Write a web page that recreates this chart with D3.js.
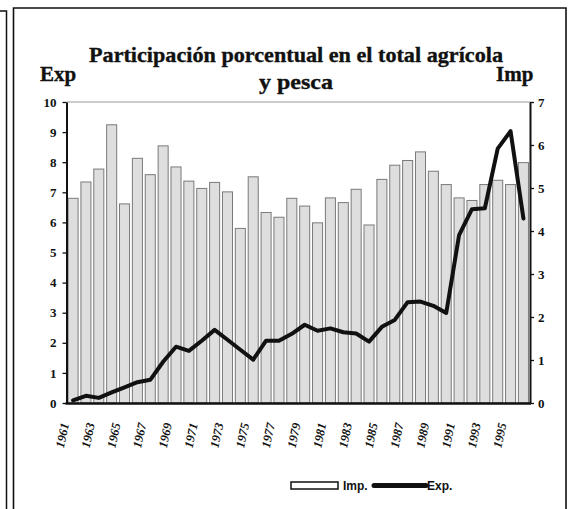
<!DOCTYPE html>
<html><head><meta charset="utf-8">
<script src="https://cdn.jsdelivr.net/npm/d3@7"></script>
<style>
html,body{margin:0;padding:0;background:#fff;}
svg{display:block;}
</style></head>
<body>
<svg id="c" width="569" height="509"></svg>
<script>
// ---- data ----
const years = ["1961","1962","1963","1964","1965","1966","1967","1968","1969","1970",
  "1971","1972","1973","1974","1975","1976","1977","1978","1979","1980",
  "1981","1982","1983","1984","1985","1986","1987","1988","1989","1990",
  "1991","1992","1993","1994","1995","1996"];
// Imp. (bars, right axis)
const impValues = [4.76,5.14,5.44,6.47,4.63,5.69,5.31,5.98,5.49,5.16,
  4.99,5.13,4.91,4.06,5.26,4.43,4.32,4.76,4.58,4.19,
  4.77,4.66,4.97,4.14,5.20,5.53,5.64,5.84,5.39,5.08,
  4.77,4.71,5.08,5.18,5.08,5.59];
// Exp. (line, left axis)
const expValues = [0.09,0.24,0.17,0.35,0.52,0.69,0.77,1.37,1.87,1.73,
  2.07,2.43,2.10,1.77,1.44,2.07,2.07,2.30,2.60,2.40,
  2.48,2.35,2.31,2.04,2.53,2.76,3.35,3.37,3.23,2.99,
  5.58,6.44,6.47,8.45,9.03,6.13];
const xTickLabels = ["1961","1963","1965","1967","1969","1971","1973","1975","1977",
  "1979","1981","1983","1985","1987","1989","1991","1993","1995"];
const leftTicks = [0,1,2,3,4,5,6,7,8,9,10];
const rightTicks = [0,1,2,3,4,5,6,7];
const titleLine1 = "Participación porcentual en el total agrícola";
const titleLine2 = "y pesca";
const leftAxisTitle = "Exp";
const rightAxisTitle = "Imp";
const legendImp = "Imp.";
const legendExp = "Exp.";

// ---- drawing ----
const svg = d3.select("#c");
const serif = "'Liberation Serif','Times New Roman',serif";
const sans = "'Liberation Sans',Arial,sans-serif";

// frames
svg.append("path").attr("d","M0,11 H6.5 V509").attr("fill","none").attr("stroke","#111").attr("stroke-width",1.5);
svg.append("path").attr("d","M13.5,509 V8 H566 V509").attr("fill","none").attr("stroke","#111").attr("stroke-width",1.6);

const x = d3.scaleBand().domain(years).range([66.5,530]).paddingInner(0.22).paddingOuter(0.12);
const yL = d3.scaleLinear().domain([0,10]).range([403,102]);
const yR = d3.scaleLinear().domain([0,7]).range([403,102]);

// top border of plot
svg.append("line").attr("x1",66.5).attr("x2",530).attr("y1",102).attr("y2",102)
  .attr("stroke","#999").attr("stroke-width",1.2);

// bars
svg.append("g").selectAll("rect").data(years).join("rect")
  .attr("x",d=>x(d))
  .attr("y",(d,i)=>yR(impValues[i]))
  .attr("width",x.bandwidth())
  .attr("height",(d,i)=>yR(0)-yR(impValues[i]))
  .attr("fill","#dedede")
  .attr("stroke","#7a7a7a")
  .attr("stroke-width",1);

// line
const line = d3.line()
  .x((d,i)=>x(years[i])+x.bandwidth()/2)
  .y(d=>yL(d));
svg.append("path").datum(expValues).attr("d",line)
  .attr("fill","none").attr("stroke","#111").attr("stroke-width",4)
  .attr("stroke-linejoin","round").attr("stroke-linecap","round");

// axes
const gL = svg.append("g").attr("transform","translate(66.5,0)")
  .call(d3.axisLeft(yL).tickValues(leftTicks).tickSize(4).tickSizeOuter(0).tickPadding(6).tickFormat(d3.format("d")));
const gR = svg.append("g").attr("transform","translate(530,0)")
  .call(d3.axisRight(yR).tickValues(rightTicks).tickSize(4).tickSizeOuter(0).tickPadding(4).tickFormat(d3.format("d")));
[gL,gR].forEach(g=>{
  g.select(".domain").attr("stroke","#111").attr("stroke-width",2);
  g.selectAll(".tick line").attr("stroke","#111").attr("stroke-width",1.3);
  g.selectAll(".tick text").attr("font-family",serif).attr("font-weight","bold")
    .attr("font-size",13).attr("fill","#111");
});
// bottom axis
svg.append("line").attr("x1",65.5).attr("x2",531).attr("y1",403.5).attr("y2",403.5)
  .attr("stroke","#111").attr("stroke-width",2.6);

// x labels
svg.append("g").selectAll("text").data(xTickLabels).join("text")
  .attr("transform",d=>`translate(${x(d)+x.bandwidth()/2-4},424) rotate(-78)`)
  .attr("text-anchor","end")
  .attr("font-family",serif).attr("font-weight","bold").attr("font-style","italic")
  .attr("font-size",12.5).attr("fill","#111")
  .text(d=>d);

// titles
const tStyle = s=>s.attr("font-family",serif).attr("font-weight","bold").attr("font-size",21)
  .attr("fill","#111").attr("stroke","#111").attr("stroke-width",0.35);
svg.append("text").attr("x",89).attr("y",62).attr("textLength",414).attr("lengthAdjust","spacingAndGlyphs")
  .call(tStyle).text(titleLine1);
svg.append("text").attr("x",296).attr("y",89).attr("text-anchor","middle")
  .attr("textLength",74).attr("lengthAdjust","spacingAndGlyphs")
  .call(tStyle).text(titleLine2);
svg.append("text").attr("x",40).attr("y",81).call(tStyle).text(leftAxisTitle);
svg.append("text").attr("x",496).attr("y",81).call(tStyle).text(rightAxisTitle);

// legend
svg.append("rect").attr("x",291).attr("y",482).attr("width",47).attr("height",7)
  .attr("fill","#fff").attr("stroke","#111").attr("stroke-width",1.5);
svg.append("text").attr("x",343).attr("y",490)
  .attr("font-family",sans).attr("font-weight","bold").attr("font-size",12).attr("fill","#111").text(legendImp);
svg.append("line").attr("x1",374).attr("x2",426).attr("y1",485.5).attr("y2",485.5)
  .attr("stroke","#111").attr("stroke-width",5).attr("stroke-linecap","round");
svg.append("text").attr("x",427).attr("y",490)
  .attr("font-family",sans).attr("font-weight","bold").attr("font-size",12).attr("fill","#111").text(legendExp);
</script>
</body></html>
